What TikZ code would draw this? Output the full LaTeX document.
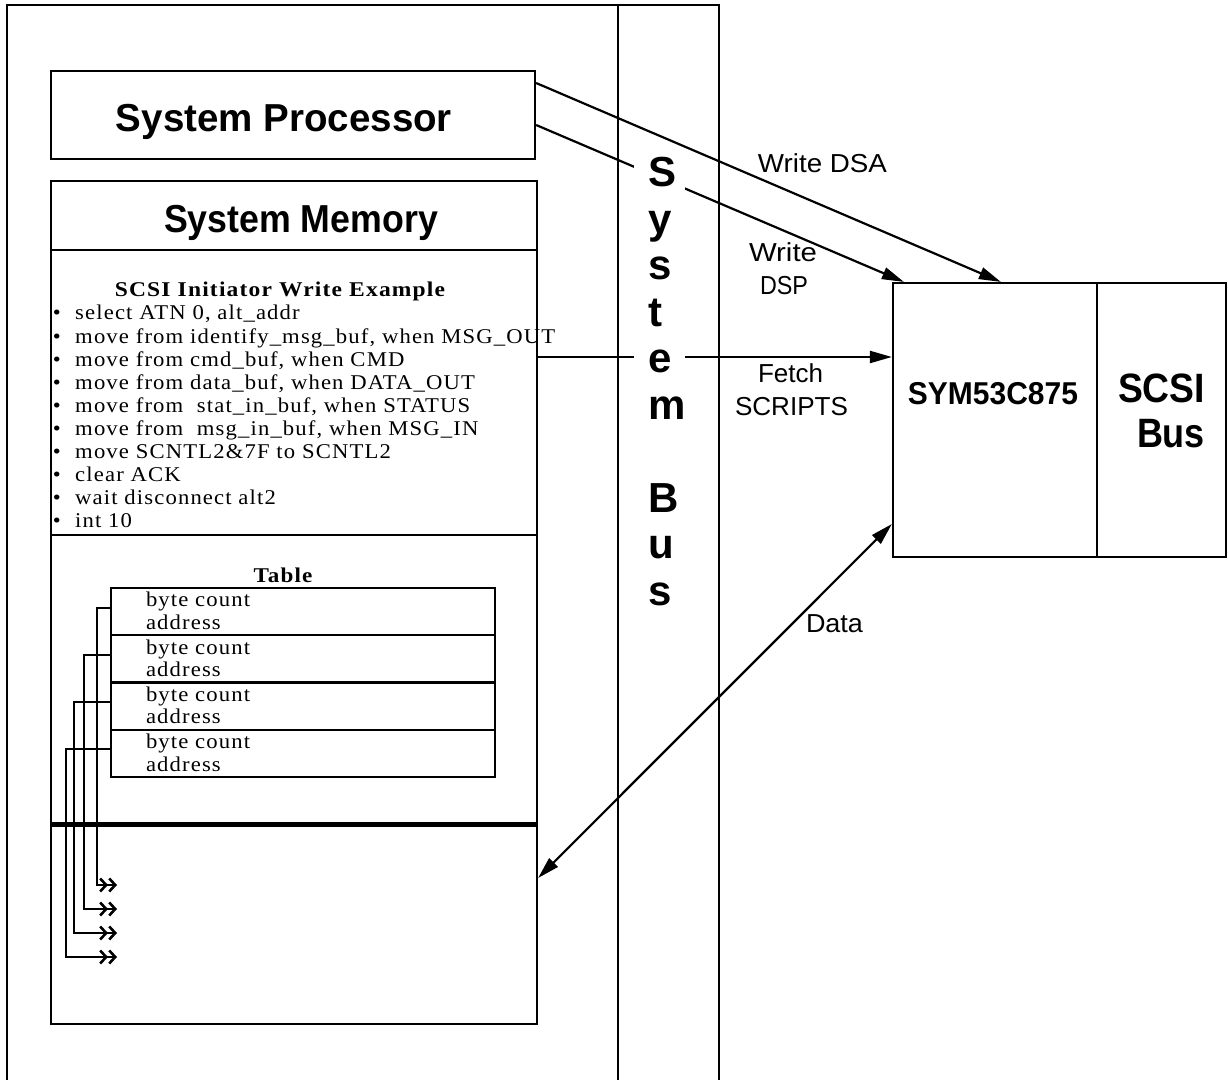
\documentclass[tikz,border=0pt]{standalone}
\usepackage{fontspec}
\usepackage{graphicx}
\setmainfont{Liberation Serif}
\newfontfamily\scrfont[LetterSpace=5]{Liberation Serif}
\newfontfamily\helv{Liberation Sans}
\usetikzlibrary{arrows.meta}
\newcommand\hs[2]{\scalebox{#1}[1]{#2}}
\newcommand\fitw[2]{\resizebox{#1}{\height}{#2}}
\begin{document}
\begin{tikzpicture}[x=0.5pt,y=-0.5pt,line width=1.1pt,
  box/.style={draw,line width=1.1pt,inner sep=0pt},
  txt/.style={inner sep=0pt,outer sep=0pt},
  scr/.style={txt,anchor=base west,font=\scrfont\fontsize{10.5}{11}\selectfont},
  scrb/.style={txt,anchor=base,font=\scrfont\bfseries\fontsize{10.5}{12}\selectfont},
  bigsans/.style={txt,anchor=base,font=\helv\bfseries\fontsize{19.5}{21}\selectfont},
  lab/.style={txt,anchor=base,font=\helv\fontsize{13}{15}\selectfont},
  busl/.style={anchor=base west,fill=white,inner xsep=0pt,inner ysep=2pt,text width=25.5pt,align=left,font=\helv\bfseries\fontsize{21}{22}\selectfont},
  arr/.style={-{Triangle[length=11pt,width=6pt]},line width=1.1pt},
  darr/.style={{Triangle[length=11pt,width=6pt]}-{Triangle[length=11pt,width=6pt]},line width=1.1pt},
  dbl/.style={-{Straight Barb[length=3pt,width=6.5pt,line width=1.3pt]Straight Barb[length=3pt,width=6.5pt,line width=1.3pt]},line width=0.9pt}
]
\useasboundingbox (0,0) rectangle (1228,1080);

% outer frame and system bus column
\draw (7,1084) -- (7,5) -- (719,5) -- (719,1084);
\draw (618,5) -- (618,1084);

% system processor
\node[box,minimum width=242pt,minimum height=44pt] (proc) at (293,115) {};
\node[bigsans] (proct) at (284,132) {\fitw{168pt}{System Processor}};

% system memory
\node[box,minimum width=243pt,minimum height=421.5pt] (mem) at (294,602.5) {};
\node[bigsans] (memt) at (301,233) {\fitw{137pt}{System Memory}};
\coordinate (ya) at (0,250);
\coordinate (yb) at (0,535);
\coordinate (yc) at (0,825);
\draw (mem.west |- ya) -- (mem.east |- ya);
\draw (mem.west |- yb) -- (mem.east |- yb);
\draw[line width=2.5pt] (mem.west |- yc) -- (mem.east |- yc);

% script
\node[scrb] (stitle) at (280,297) {\hs{1.12}{SCSI Initiator Write Example}};
\foreach \t [count=\k from 0] in {%
  {select ATN 0, alt\_addr},
  {move from identify\_msg\_buf, when MSG\_OUT},
  {move from cmd\_buf, when CMD},
  {move from data\_buf, when DATA\_OUT},
  {move from\ \ stat\_in\_buf, when STATUS},
  {move from\ \ msg\_in\_buf, when MSG\_IN},
  {move SCNTL2\&7F to SCNTL2},
  {clear ACK},
  {wait disconnect alt2},
  {int 10}}
  \node[scr] (sl\k) at (53,320+23.05*\k) {\hs{1.08}{\makebox[10.3pt][l]{•}\t}};

% table
\node[scrb] (ttitle) at (283,583) {\hs{1.1}{Table}};
\foreach \k in {1,2,3,4} {
  \node[box,minimum width=192pt,minimum height=23.625pt] (r\k) at (303,564.375+47.25*\k) {};
  \node[scr] (bc\k) at (146,540.75+47.25*\k+19) {\hs{1.08}{byte count}};
  \node[scr] (ad\k) at (146,540.75+47.25*\k+41.5) {\hs{1.08}{address}};
}
\coordinate (k1) at (97,885);  \coordinate (e1) at (117,885);
\coordinate (k2) at (84,909);  \coordinate (e2) at (117,909);
\coordinate (k3) at (74,933);  \coordinate (e3) at (117,933);
\coordinate (k4) at (66,957);  \coordinate (e4) at (117,957);
\foreach \k in {1,2,3,4}
  \draw[dbl] ([yshift=2pt]r\k.west) -| (k\k) -- (e\k);

% SYM53C875 and SCSI bus
\node[box,minimum width=102pt,minimum height=137pt] (sym) at (995,420) {};
\node[box,minimum width=64.5pt,minimum height=137pt] (scsi) at (1161.5,420) {};
\node[txt,anchor=base,font=\helv\bfseries\fontsize{15.8}{17}\selectfont] (symt) at (993,405) {\fitw{85pt}{SYM53C875}};
\node[txt,anchor=base,font=\helv\bfseries\fontsize{20.5}{21}\selectfont] (scsit) at (1161.5,403) {\fitw{43.5pt}{SCSI}};
\node[txt,anchor=base,font=\helv\bfseries\fontsize{20.5}{21}\selectfont] (bust) at (1171,448) {\fitw{34pt}{Bus}};

% connectors
\coordinate (fs) at ([yshift=122.75pt]mem.east);
\draw[arr] ([yshift=16pt]proc.east) -- ([xshift=54.5pt]sym.north west);
\draw[arr] ([yshift=-5pt]proc.east) -- ([xshift=6pt]sym.north west);
\draw[arr] (fs) -- (sym.west |- fs);
\draw[darr] ([yshift=-137.75pt]mem.east) -- ([yshift=-52pt]sym.west);

% labels
\node[lab] (lwdsa) at (822.5,173) {\fitw{64.5pt}{Write DSA}};
\node[lab] (lw1) at (783,262) {\fitw{34pt}{Write}};
\node[lab] (lw2) at (784,295) {\fitw{24pt}{DSP}};
\node[lab] (lf1) at (790.5,383) {\fitw{32.5pt}{Fetch}};
\node[lab] (lf2) at (791.5,416) {\fitw{56.5pt}{SCRIPTS}};
\node[lab] (ldata) at (834.5,633) {\fitw{28.5pt}{Data}};

% system bus letters
\foreach \l/\k/\n in {S/0/b1,y/1/b2,s/2/b3,t/3/b4,e/4/b5,m/5/b6,B/7/b7,u/8/b8,s/9/b9}
  \node[busl] (\n) at (633,187+46.5*\k) {\hspace*{7pt}\l};
\end{tikzpicture}
\end{document}
